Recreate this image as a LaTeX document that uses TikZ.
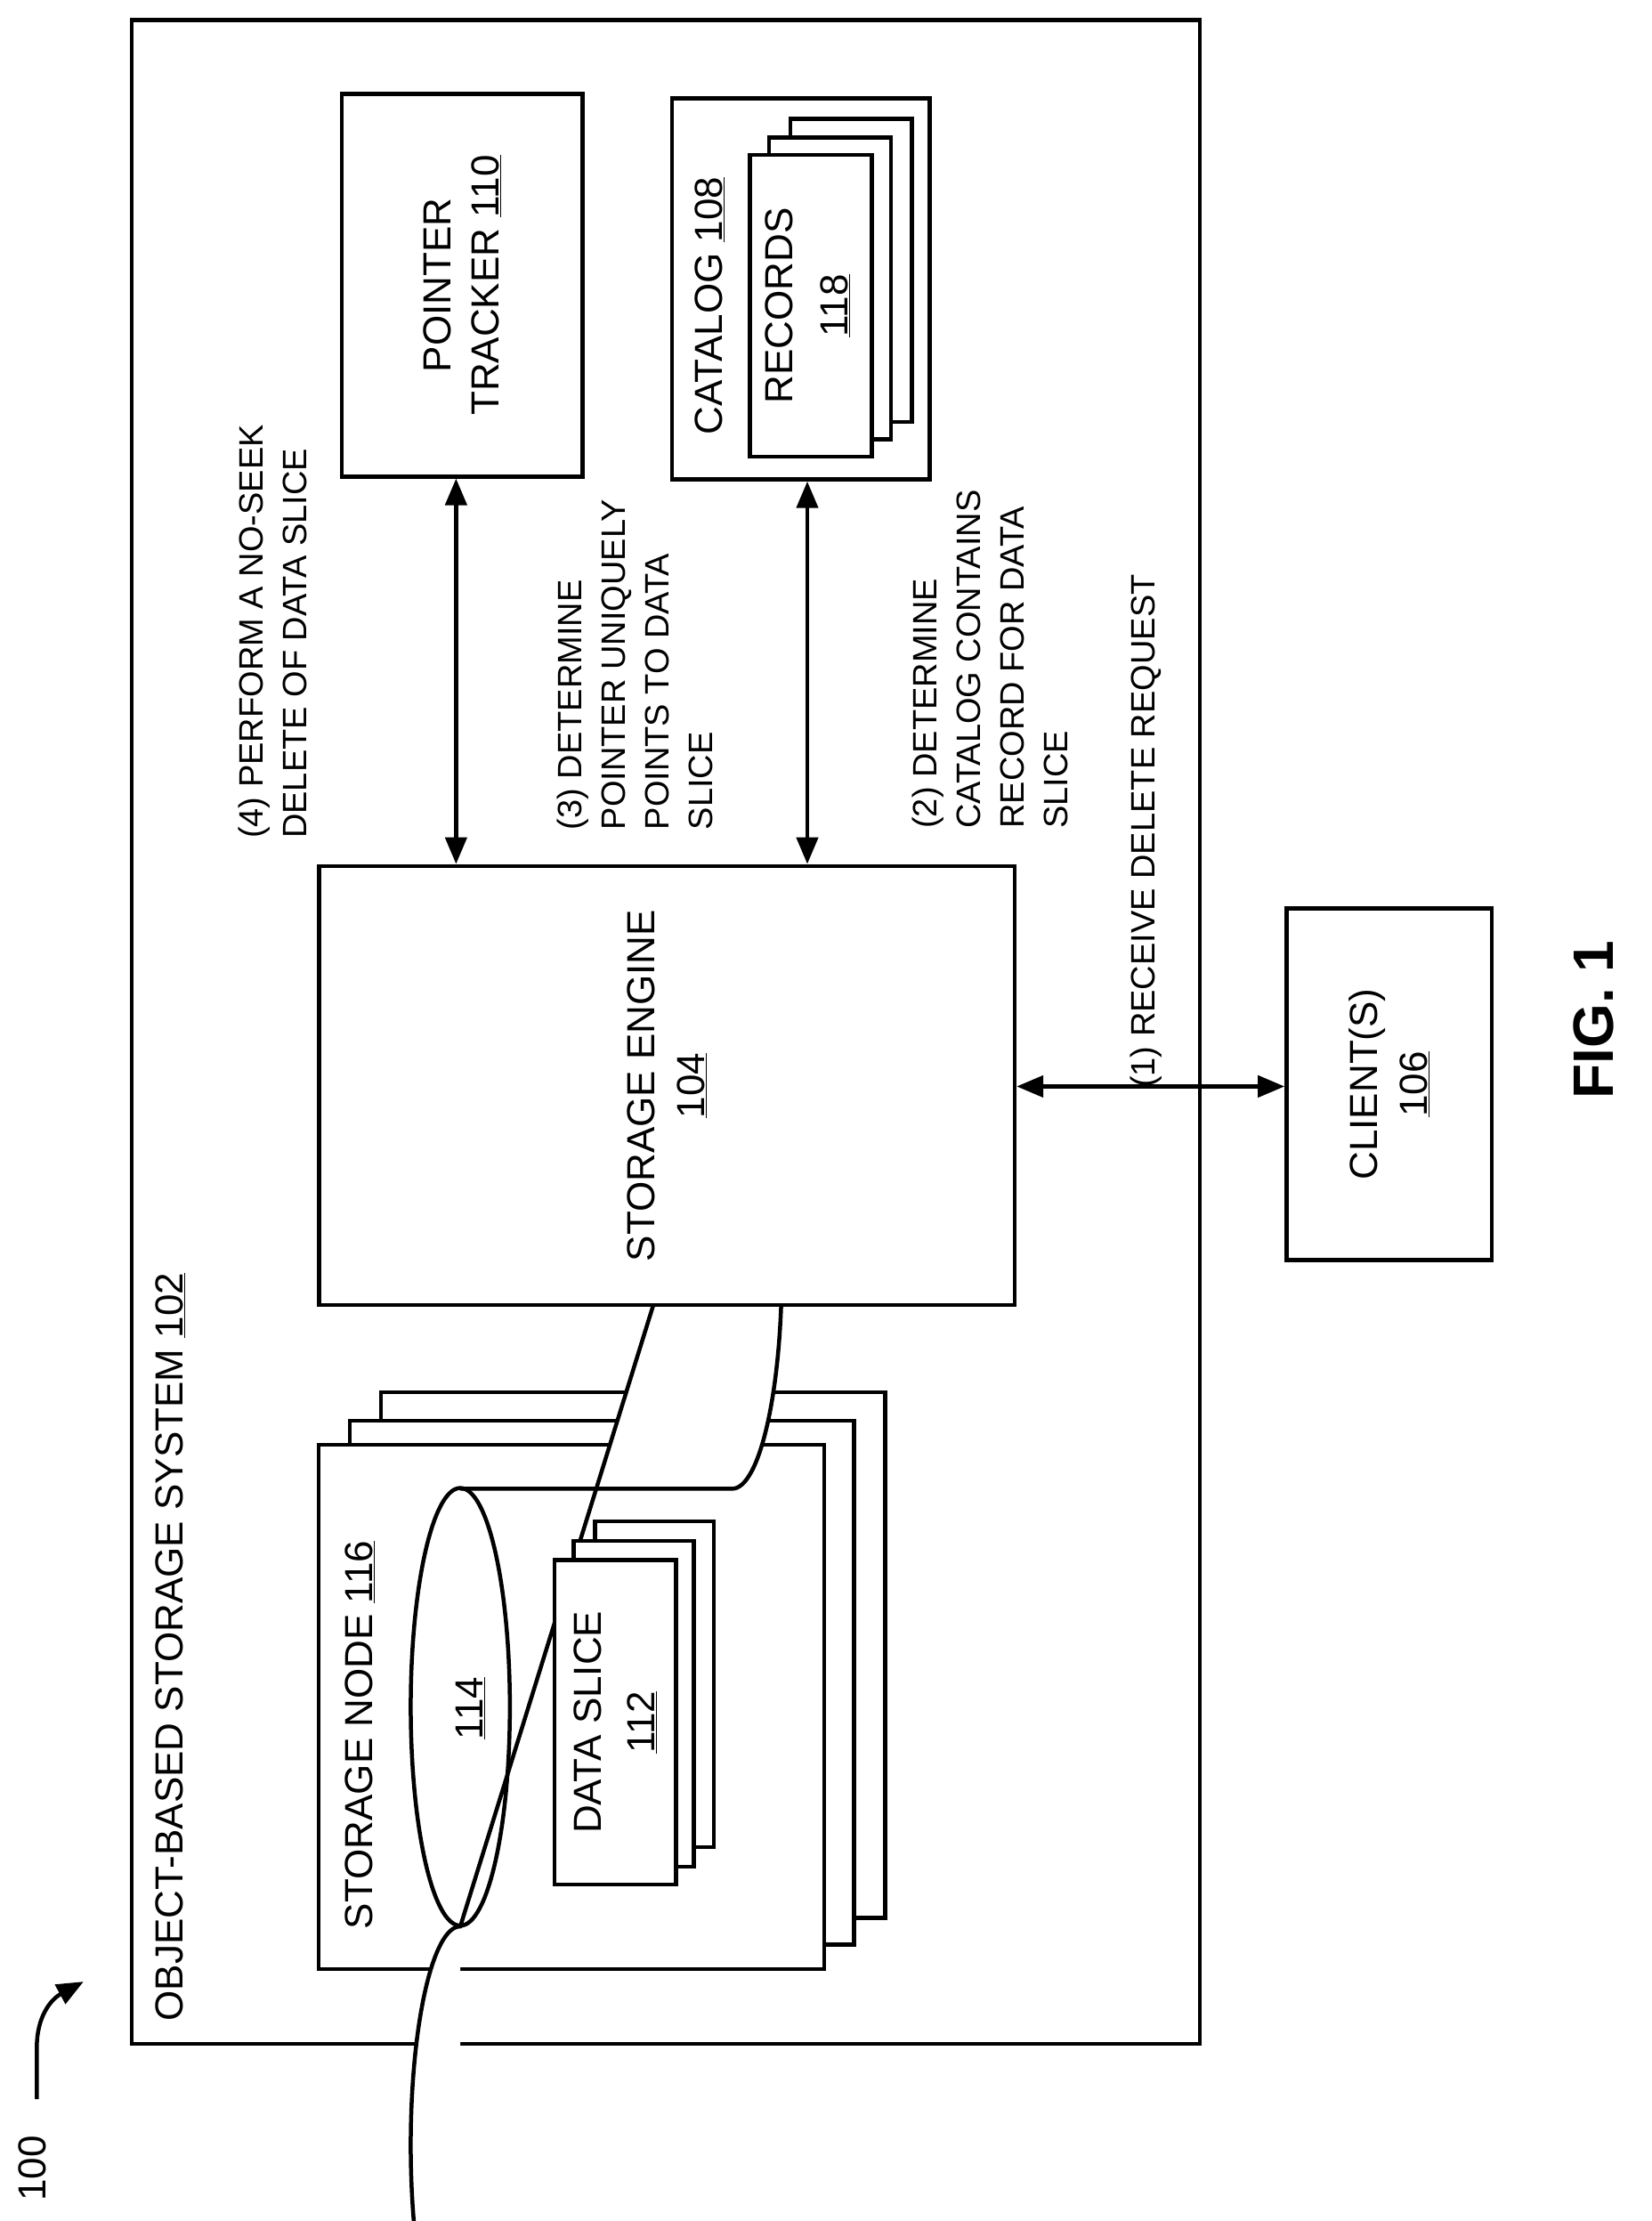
\documentclass[tikz,border=0pt]{standalone}
\usepackage{fontspec}
\setmainfont{Liberation Sans}
\usetikzlibrary{arrows.meta}
\begin{document}
\begin{tikzpicture}[x=1.591pt,y=-1.591pt,
  box/.style={draw,line width=4.5pt,fill=white},
  lbl/.style={rotate=90,inner sep=0pt,font=\fontsize{44}{54}\selectfont},
  steplbl/.style={rotate=90,inner sep=0pt,anchor=north west,align=left,font=\fontsize{38}{49}\selectfont},
  dbl/.style={line width=4.5pt,{Triangle[width=24pt,length=30pt]}-{Triangle[width=24pt,length=30pt]}}]
\useasboundingbox (0,0) rectangle (1166,1568);
% outer
\draw[box] (93,14) rectangle (847,1443);
\node[lbl,anchor=west] (osl) at (120,1427) {OBJECT-BASED STORAGE SYSTEM \underline{102}};
% storage node stack
\draw[box] (269,983) rectangle (625,1354);
\draw[box] (247,1003) rectangle (603,1373);
\draw[box] (225,1020) rectangle (582,1390);
\node[lbl,anchor=west] (snl) at (254,1362) {STORAGE NODE \underline{116}};
% cylinder
\draw[line width=4.5pt,fill=white] (325,1051) -- (517,1051) arc[start angle=-90,end angle=90,x radius=35,y radius=-154.5] -- (325,1360) arc[start angle=90,end angle=270,x radius=35,y radius=-154.5];
\draw[line width=4.5pt] (325,1205) ellipse[x radius=35,y radius=154.5];
\node[lbl] (c114) at (332,1206) {\underline{114}};
% data slice stack
\draw[box] (420,1074) rectangle (504,1304);
\draw[box] (405,1088) rectangle (490,1318);
\node[box,minimum width=86*1.591pt,minimum height=229*1.591pt,anchor=north west] (ds) at (390,1100) {};
\node[lbl,align=center,font=\fontsize{44}{60}\selectfont] at (ds.center) {DATA SLICE\\\underline{112}};
% storage engine
\node[box,minimum width=491*1.591pt,minimum height=310*1.591pt,anchor=north west] (se) at (224,610) {};
\node[lbl,align=center,font=\fontsize{44}{56}\selectfont] at (se.center) {STORAGE ENGINE\\\underline{104}};
% pointer tracker
\node[box,minimum width=170*1.591pt,minimum height=270*1.591pt,anchor=north west] (pt) at (240,65) {};
\node[lbl,align=center,font=\fontsize{44}{54}\selectfont] at (pt.center) {POINTER\\TRACKER \underline{110}};
% catalog
\node[box,minimum width=182*1.591pt,minimum height=269*1.591pt,anchor=north west] (cat) at (473,68) {};
\draw[box] (558,84) rectangle (644,298);
\draw[box] (543,97) rectangle (629,310);
\node[box,minimum width=86*1.591pt,minimum height=213*1.591pt,anchor=north west] (rec) at (528,108) {};
\node[lbl,anchor=west] (catl) at (501,307) {CATALOG \underline{108}};
\node[lbl,align=center,font=\fontsize{44}{62}\selectfont] at ([xshift=-2*1.591pt]rec.center) {RECORDS\\\underline{118}};
% client
\node[box,minimum width=145*1.591pt,minimum height=248*1.591pt,anchor=north west] (cl) at (907,640) {};
\node[lbl,align=center,font=\fontsize{44}{56}\selectfont] at (cl.center) {CLIENT(S)\\\underline{106}};
% arrows
\draw[dbl] (se.north -| 322,0) -- (pt.south -| 322,0);
\draw[dbl] (se.north -| 570,0) -- (cat.south -| 570,0);
\draw[dbl] (se.east |- 0,767) -- (cl.west |- 0,767);
% step labels
\node[steplbl] (s4) at (168,592) {(4) PERFORM A NO-SEEK\\DELETE OF DATA SLICE};
\node[steplbl] (s3) at (393,586) {(3) DETERMINE\\POINTER UNIQUELY\\POINTS TO DATA\\SLICE};
\node[steplbl] (s2) at (644,585) {(2) DETERMINE\\CATALOG CONTAINS\\RECORD FOR DATA\\SLICE};
\node[steplbl] (s1) at (798,768) {(1) RECEIVE DELETE REQUEST};
% fig
\node[lbl,font=\fontsize{64}{70}\bfseries] (fig) at (1125,720) {FIG. 1};
\node[lbl] (n100) at (23,1531) {100};
\coordinate (a0) at (26,1482);
\coordinate (a1) at (59,1399);
\draw[line width=4.5pt,-{Triangle[width=24pt,length=30pt]}] (a0) -- (26,1445) .. controls (26,1425) and (35,1412) .. (a1);
\end{tikzpicture}
\end{document}
